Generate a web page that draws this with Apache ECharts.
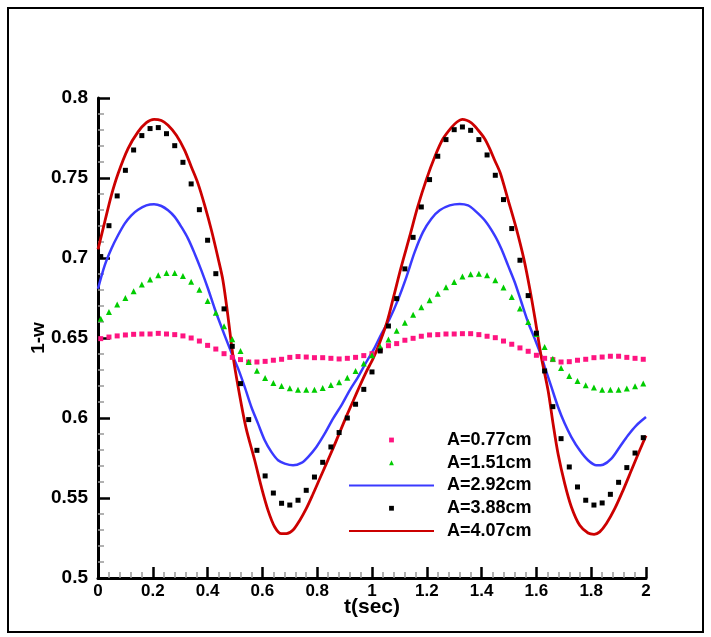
<!DOCTYPE html>
<html><head><meta charset="utf-8">
<script src="https://cdn.jsdelivr.net/npm/echarts@6/dist/echarts.min.js"></script>
<style>html,body{margin:0;padding:0;background:#fff}#c{width:711px;height:637px}</style>
</head><body><div id="c"></div>
<script>
// Sample times of the marker series (sec)
const tMarkers = [0.01,0.04,0.07,0.10,0.13,0.16,0.19,0.22,0.25,0.28,0.31,0.34,0.37,0.40,0.43,0.46,0.49,0.52,0.55,0.58,0.61,0.64,0.67,0.70,0.73,0.76,0.79,0.82,0.85,0.88,0.91,0.94,0.97,1.00,1.03,1.06,1.09,1.12,1.15,1.18,1.21,1.24,1.27,1.30,1.33,1.36,1.39,1.42,1.45,1.48,1.51,1.54,1.57,1.60,1.63,1.66,1.69,1.72,1.75,1.78,1.81,1.84,1.87,1.90,1.93,1.96,1.99];
// A=0.77cm (pink squares)
const a077 = [0.6496,0.6506,0.6513,0.6519,0.6523,0.6525,0.6525,0.6529,0.6525,0.6521,
0.6513,0.6500,0.6481,0.6454,0.6431,0.6402,0.6379,0.6365,0.6350,0.6350,
0.6354,0.6361,0.6367,0.6379,0.6384,0.6381,0.6377,0.6377,0.6373,0.6369,
0.6373,0.6379,0.6390,0.6402,0.6427,0.6452,0.6465,0.6486,0.6498,0.6511,
0.6519,0.6521,0.6525,0.6525,0.6527,0.6527,0.6521,0.6511,0.6502,0.6481,
0.6461,0.6438,0.6417,0.6392,0.6373,0.6365,0.6350,0.6352,0.6361,0.6367,
0.6377,0.6381,0.6386,0.6386,0.6379,0.6373,0.6367];
// A=1.51cm (green triangles)
const a151 = [0.6621,0.6663,0.6709,0.6750,0.6792,0.6834,0.6865,0.6892,0.6907,0.6907,
0.6888,0.6852,0.6802,0.6732,0.6658,0.6573,0.6492,0.6419,0.6350,0.6296,
0.6250,0.6219,0.6200,0.6186,0.6177,0.6177,0.6177,0.6188,0.6206,0.6223,
0.6252,0.6294,0.6340,0.6392,0.6445,0.6490,0.6546,0.6596,0.6646,0.6692,
0.6736,0.6777,0.6817,0.6850,0.6884,0.6898,0.6902,0.6892,0.6861,0.6815,
0.6757,0.6684,0.6600,0.6525,0.6444,0.6371,0.6313,0.6263,0.6231,0.6204,
0.6190,0.6177,0.6177,0.6177,0.6184,0.6198,0.6215];
// A=3.88cm (black squares)
const a388 = [0.7009,0.7202,0.7388,0.7548,0.7675,0.7765,0.7809,0.7815,0.7777,0.7702,
0.7598,0.7463,0.7302,0.7111,0.6902,0.6682,0.6448,0.6215,0.5990,0.5798,
0.5638,0.5531,0.5467,0.5456,0.5486,0.5548,0.5631,0.5723,0.5819,0.5909,
0.6000,0.6086,0.6179,0.6288,0.6419,0.6575,0.6746,0.6932,0.7129,0.7319,
0.7490,0.7636,0.7740,0.7802,0.7819,0.7798,0.7740,0.7644,0.7517,0.7365,
0.7184,0.6986,0.6765,0.6530,0.6294,0.6071,0.5871,0.5694,0.5569,0.5486,
0.5456,0.5469,0.5523,0.5598,0.5690,0.5781,0.5877];
// A=2.92cm (blue line)
const tBlue = [0.0000,0.0245,0.0488,0.0731,0.0975,0.1218,0.1461,0.1765,0.2045,0.2313,0.2556,0.2799,0.3043,0.3286,0.3529,0.3772,0.4016,0.4260,0.4503,0.4750,0.4925,0.5111,0.5354,0.5597,0.5841,0.6084,0.6327,0.6571,0.6814,0.7118,0.7422,0.7665,0.7970,0.8274,0.8578,0.8882,0.9186,0.9490,0.9795,1.0099,1.0342,1.0646,1.0951,1.1255,1.1560,1.1864,1.2168,1.2472,1.2836,1.3201,1.3505,1.3748,1.4112,1.4477,1.4720,1.4964,1.5207,1.5450,1.5693,1.5937,1.6175,1.6304,1.6547,1.6790,1.7034,1.7277,1.7581,1.7885,1.8190,1.8433,1.8737,1.9041,1.9345,1.9650,2.0000];
const a292 = [0.6808,0.6954,0.7058,0.7142,0.7215,0.7267,0.7302,0.7329,0.7336,0.7325,0.7298,0.7257,0.7194,0.7121,0.7027,0.6923,0.6808,0.6683,0.6570,0.6460,0.6385,0.6310,0.6194,0.6069,0.5965,0.5861,0.5788,0.5736,0.5715,0.5704,0.5719,0.5756,0.5819,0.5902,0.5996,0.6079,0.6173,0.6256,0.6350,0.6440,0.6525,0.6620,0.6740,0.6881,0.7038,0.7163,0.7246,0.7298,0.7329,0.7338,0.7329,0.7298,0.7236,0.7142,0.7058,0.6954,0.6850,0.6725,0.6600,0.6496,0.6390,0.6319,0.6194,0.6069,0.5965,0.5881,0.5798,0.5736,0.5704,0.5708,0.5746,0.5819,0.5892,0.5954,0.6006];
// A=4.07cm (red line)
const tRed = [0.0000,0.0245,0.0488,0.0731,0.1096,0.1461,0.1765,0.2045,0.2313,0.2556,0.2860,0.3164,0.3408,0.3651,0.3894,0.4138,0.4381,0.4560,0.4740,0.4925,0.5140,0.5400,0.5719,0.5962,0.6206,0.6450,0.6693,0.6875,0.7118,0.7361,0.7605,0.7848,0.8091,0.8335,0.8578,0.8821,0.9065,0.9308,0.9552,0.9795,1.0050,1.0300,1.0549,1.0792,1.1059,1.1375,1.1667,1.1983,1.2299,1.2591,1.2895,1.3100,1.3300,1.3626,1.3869,1.4112,1.4295,1.4477,1.4684,1.4964,1.5268,1.5548,1.5767,1.5950,1.6175,1.6425,1.6608,1.6790,1.7034,1.7277,1.7581,1.7885,1.8104,1.8311,1.8555,1.8859,1.9163,1.9467,1.9771,2.0000];
const a407 = [0.7054,0.7225,0.7392,0.7527,0.7684,0.7788,0.7846,0.7867,0.7859,0.7829,0.7767,0.7673,0.7569,0.7465,0.7329,0.7175,0.7000,0.6860,0.6640,0.6390,0.6170,0.5940,0.5736,0.5569,0.5423,0.5319,0.5277,0.5277,0.5300,0.5360,0.5435,0.5525,0.5620,0.5715,0.5810,0.5910,0.6010,0.6105,0.6200,0.6290,0.6375,0.6480,0.6600,0.6760,0.6940,0.7135,0.7319,0.7490,0.7636,0.7745,0.7815,0.7850,0.7867,0.7845,0.7800,0.7746,0.7684,0.7611,0.7530,0.7365,0.7184,0.6990,0.6800,0.6620,0.6385,0.6173,0.5965,0.5777,0.5590,0.5444,0.5329,0.5281,0.5273,0.5288,0.5340,0.5433,0.5548,0.5673,0.5798,0.5890];
const seriesNames = ['A=0.77cm','A=1.51cm','A=2.92cm','A=3.88cm','A=4.07cm'];

const FONT = '"Liberation Sans", Arial, Helvetica, sans-serif';
function pairs(t, v) { return t.map((x, i) => [x, v[i]]); }

const chart = echarts.init(document.getElementById('c'));
const markerBase = { type: 'line', showAllSymbol: true, lineStyle: { opacity: 0, width: 0 }, emphasis: { disabled: true }, z: 3 };
const lineBase = { type: 'line', symbol: 'none', smooth: 0.3, emphasis: { disabled: true }, z: 2 };

chart.setOption({
  animation: false,
  backgroundColor: '#fff',
  graphic: [{ type: 'rect', shape: { x: 8, y: 8, width: 695, height: 624 }, style: { fill: 'none', stroke: '#000', lineWidth: 2 }, z: -10 }],
  grid: { left: 98, right: 65, top: 98, bottom: 59 },
  legend: {
    orient: 'vertical', left: 343, top: 426,
    itemWidth: 85, itemHeight: 6, itemGap: 4.75,
    selectedMode: false,
    textStyle: { fontFamily: FONT, fontWeight: 'bold', fontSize: 18, color: '#000', lineHeight: 18, padding: [0, 0, 0, 8] },
    data: [
      { name: seriesNames[0] },
      { name: seriesNames[1] },
      { name: seriesNames[2], itemStyle: { opacity: 0 } },
      { name: seriesNames[3] },
      { name: seriesNames[4], itemStyle: { opacity: 0 } }
    ]
  },
  xAxis: {
    type: 'value', min: 0, max: 2, interval: 0.2,
    name: 't(sec)', nameLocation: 'middle', nameGap: 19, nameMoveOverlap: false,
    nameTextStyle: { fontFamily: FONT, fontWeight: 'bold', fontSize: 21, color: '#000' },
    axisLine: { lineStyle: { color: '#000', width: 3 } },
    axisTick: { inside: true, length: 11, lineStyle: { color: '#000', width: 2.5 } },
    minorTick: { show: true, splitNumber: 5, length: 6, lineStyle: { color: '#999', width: 1.5 } },
    splitLine: { show: false },
    axisLabel: { fontFamily: FONT, fontWeight: 'bold', fontSize: 17, color: '#000', margin: 5 }
  },
  yAxis: {
    type: 'value', min: 0.5, max: 0.8, interval: 0.05,
    name: '1-w', nameLocation: 'middle', nameGap: 50, nameRotate: 90, nameMoveOverlap: false,
    nameTextStyle: { fontFamily: FONT, fontWeight: 'bold', fontSize: 19, color: '#000' },
    axisLine: { lineStyle: { color: '#000', width: 3 } },
    axisTick: { inside: true, length: 12, lineStyle: { color: '#000', width: 2.5 } },
    minorTick: { show: true, splitNumber: 5, length: 6, lineStyle: { color: '#999', width: 1.5 } },
    splitLine: { show: false },
    axisLabel: { fontFamily: FONT, fontWeight: 'bold', fontSize: 19, color: '#000', margin: 10 }
  },
  series: [
    Object.assign({}, markerBase, { name: seriesNames[0], data: pairs(tMarkers, a077), symbol: 'rect', symbolSize: 5, itemStyle: { color: '#ff1480' } }),
    Object.assign({}, markerBase, { name: seriesNames[1], data: pairs(tMarkers, a151), symbol: 'triangle', symbolSize: 6, itemStyle: { color: '#00cc00' } }),
    Object.assign({}, lineBase, { name: seriesNames[2], data: pairs(tBlue, a292), itemStyle: { color: '#3a3aff' }, lineStyle: { color: '#3a3aff', width: 2.5 } }),
    Object.assign({}, markerBase, { name: seriesNames[3], data: pairs(tMarkers, a388), symbol: 'rect', symbolSize: 5, itemStyle: { color: '#000' } }),
    Object.assign({}, lineBase, { name: seriesNames[4], data: pairs(tRed, a407), itemStyle: { color: '#cc0000' }, lineStyle: { color: '#cc0000', width: 2.8 } })
  ]
});
</script>
</body></html>
